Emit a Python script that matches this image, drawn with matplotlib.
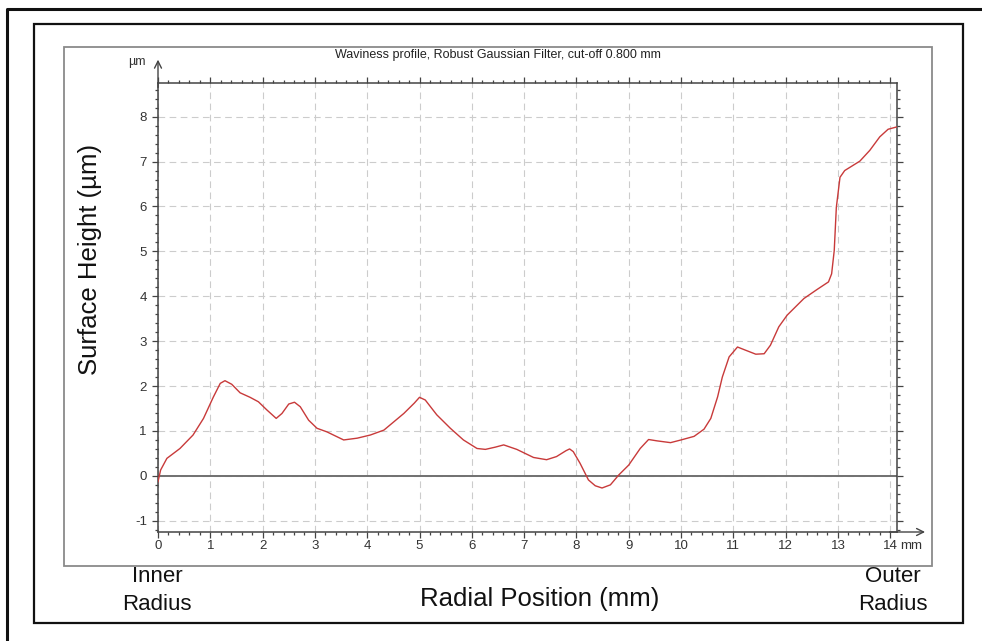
import matplotlib
matplotlib.use("Agg")
import matplotlib.pyplot as plt
from matplotlib.lines import Line2D
from matplotlib.patches import Rectangle
from matplotlib.ticker import MultipleLocator

plt.rcParams["font.family"] = ["Liberation Sans", "DejaVu Sans"]
plt.rcParams["axes.unicode_minus"] = False

# waviness profile read along the radius (mm, µm)
radial_mm = [0.00, 0.05, 0.17, 0.42, 0.67, 0.87, 1.06, 1.19, 1.28, 1.41, 1.57,
             1.76, 1.92, 2.08, 2.26, 2.37, 2.50, 2.61, 2.72, 2.88, 3.04, 3.23,
             3.39, 3.55, 3.81, 4.06, 4.32, 4.70, 4.90, 5.00, 5.11, 5.33, 5.59,
             5.84, 6.10, 6.26, 6.45, 6.61, 6.86, 7.18, 7.43, 7.62, 7.80, 7.87,
             7.94, 8.07, 8.23, 8.36, 8.49, 8.65, 8.81, 9.00, 9.22, 9.38, 9.54,
             9.80, 10.00, 10.25, 10.44, 10.57, 10.70, 10.79, 10.92, 11.08,
             11.21, 11.43, 11.59, 11.71, 11.87, 12.03, 12.35, 12.60, 12.82,
             12.88, 12.93, 12.97, 13.04, 13.13, 13.42, 13.61, 13.80, 13.96,
             14.12]
height_um = [-0.13, 0.13, 0.39, 0.61, 0.91, 1.28, 1.76, 2.06, 2.12, 2.04, 1.85,
             1.75, 1.65, 1.47, 1.28, 1.39, 1.60, 1.64, 1.54, 1.24, 1.06, 0.98,
             0.89, 0.80, 0.84, 0.91, 1.02, 1.39, 1.62, 1.75, 1.69, 1.36, 1.06,
             0.80, 0.61, 0.59, 0.64, 0.69, 0.59, 0.41, 0.36, 0.43, 0.56, 0.60,
             0.54, 0.28, -0.09, -0.22, -0.27, -0.20, 0.02, 0.24, 0.61, 0.81,
             0.78, 0.74, 0.80, 0.88, 1.04, 1.28, 1.76, 2.20, 2.65, 2.87,
             2.81, 2.71, 2.72, 2.91, 3.32, 3.58, 3.95, 4.15, 4.32,
             4.50, 5.02, 5.98, 6.65, 6.80, 7.01, 7.25, 7.55, 7.72,
             7.77]

title = "Waviness profile, Robust Gaussian Filter, cut-off 0.800 mm"

W, H = 982, 641
fig = plt.figure(figsize=(W / 100, H / 100), dpi=100)


def fx(x):
    return x / W


def fy(y):
    return 1 - y / H


ax = fig.add_axes([fx(158), fy(532), fx(897) - fx(158), fy(83) - fy(532)])

ax.plot(radial_mm, height_um, color="#c83a3a", lw=1.0, zorder=3)
ax.axhline(0, color="#707070", lw=1.4, zorder=2)

ax.set_xlim(0, 14.13)
ax.set_ylim(-1.25, 8.75)
ax.xaxis.set_major_locator(MultipleLocator(1))
ax.xaxis.set_minor_locator(MultipleLocator(0.2))
ax.yaxis.set_major_locator(MultipleLocator(1))
ax.yaxis.set_minor_locator(MultipleLocator(0.2))
ax.grid(which="major", ls=(0, (6, 4)), lw=0.8, color="#cccccc")
ax.set_axisbelow(True)

for s in ax.spines.values():
    s.set_color("#444444")
    s.set_linewidth(1.1)

ax.tick_params(which="both", direction="out", top=True, right=True,
               colors="#444444", labelcolor="#333333", labelsize=9.5,
               width=0.9)
ax.tick_params(which="major", length=4, pad=2)
ax.tick_params(which="minor", length=2.5)
ax.tick_params(axis="y", which="major", pad=4)

# axis arrows and unit marks
arrow = dict(arrowstyle="->,head_length=0.5,head_width=0.25", color="#444444",
             lw=1.0, shrinkA=0, shrinkB=0)
ax.annotate("", xy=(0, 1.052), xytext=(0, 0.99), xycoords="axes fraction",
            arrowprops=arrow, annotation_clip=False)
ax.annotate("", xy=(1.038, 0), xytext=(0.99, 0), xycoords="axes fraction",
            arrowprops=arrow, annotation_clip=False)
fig.text(fx(137), fy(62), "µm", ha="center", va="center", fontsize=9,
         color="#333333")
fig.text(fx(900), fy(546), "mm", ha="left", va="center", fontsize=9.5,
         color="#333333")

fig.text(fx(498), fy(55), title, ha="center", va="center", fontsize=9,
         color="#222222")

fig.text(fx(90), fy(259), "Surface Height (µm)", rotation=90, ha="center",
         va="center", fontsize=18.5, color="#111111")
fig.text(fx(540), fy(599), "Radial Position (mm)", ha="center", va="center",
         fontsize=18.5, color="#111111")
for cx, word_a in ((157, "Inner"), (893, "Outer")):
    fig.text(fx(cx), fy(577), word_a, ha="center", va="center", fontsize=16,
             color="#111111")
    fig.text(fx(cx), fy(605), "Radius", ha="center", va="center",
             fontsize=16, color="#111111")

# frames around the chart
fig.add_artist(Rectangle((fx(64), fy(566)), fx(932) - fx(64),
                         fy(47) - fy(566), transform=fig.transFigure,
                         fill=False, ec="#8a8a8a", lw=1.3))
fig.add_artist(Rectangle((fx(34), fy(623)), fx(963) - fx(34),
                         fy(24) - fy(623), transform=fig.transFigure,
                         fill=False, ec="#111111", lw=1.6))
fig.add_artist(Line2D([fx(7), fx(7), 1.0], [0.0, fy(9), fy(9)],
                      transform=fig.transFigure, color="#111111", lw=2.2))

fig.savefig("out.png", dpi=100)
